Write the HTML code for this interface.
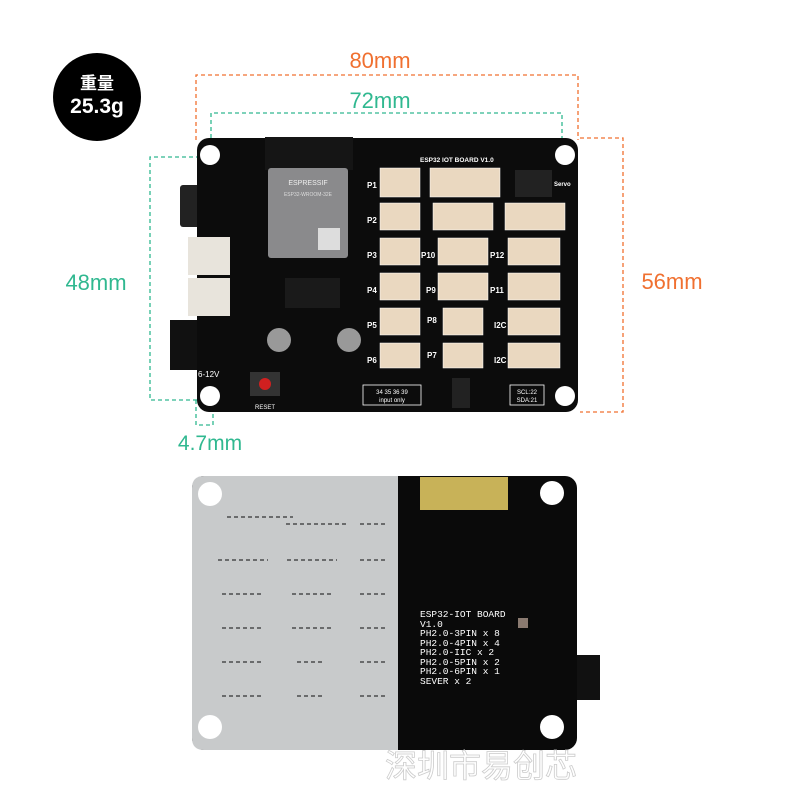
<!DOCTYPE html><html><head><meta charset="utf-8"><style>
body{margin:0;background:#fff;width:800px;height:800px;overflow:hidden;font-family:"Liberation Sans","Noto Sans CJK SC",sans-serif}
</style></head><body>
<svg width="800" height="800" viewBox="0 0 800 800" xmlns="http://www.w3.org/2000/svg" font-family="Liberation Sans, Noto Sans CJK SC, sans-serif">
<rect width="800" height="800" fill="#fff"/>
<circle cx="97" cy="97" r="44" fill="#000"/>
<text x="97" y="89" fill="#fff" font-size="17" font-weight="bold" text-anchor="middle">重量</text>
<text x="97" y="113" fill="#fff" font-size="21" font-weight="bold" text-anchor="middle">25.3g</text>
<g fill="none" stroke-width="1.3" stroke-dasharray="4,3">
<path d="M196 140 V75 H578 V140" stroke="#f07030"/>
<path d="M211 145 V113 H562 V145" stroke="#30b890"/>
<path d="M200 157 H150 V400 H200" stroke="#30b890"/>
<path d="M580 138 H623 V412 H580" stroke="#f07030"/>
<path d="M196 400 V425 H213 V400" stroke="#30b890"/>
</g>
<text x="380" y="68" fill="#f07030" font-size="22" text-anchor="middle">80mm</text>
<text x="380" y="108" fill="#30b890" font-size="22" text-anchor="middle">72mm</text>
<text x="96" y="290" fill="#30b890" font-size="22" text-anchor="middle">48mm</text>
<text x="672" y="289" fill="#f07030" font-size="22" text-anchor="middle">56mm</text>
<text x="210" y="450" fill="#30b890" font-size="21" text-anchor="middle">4.7mm</text>
<rect x="180" y="185" width="22" height="42" fill="#222" rx="3"/>
<rect x="170" y="320" width="60" height="50" fill="#111"/>
<rect x="197" y="138" width="381" height="274" rx="12" fill="#0c0c0c"/>
<circle cx="210" cy="155" r="10" fill="#fff"/><circle cx="565" cy="155" r="10" fill="#fff"/>
<circle cx="210" cy="396" r="10" fill="#fff"/><circle cx="565" cy="396" r="10" fill="#fff"/>
<rect x="265" y="137" width="88" height="33" fill="#151515"/>
<rect x="268" y="168" width="80" height="90" rx="3" fill="#8a8a8c"/>
<text x="308" y="185" fill="#eee" font-size="7" text-anchor="middle">ESPRESSIF</text>
<text x="308" y="196" fill="#ddd" font-size="5" text-anchor="middle">ESP32-WROOM-32E</text>
<rect x="318" y="228" width="22" height="22" fill="#ddd"/>
<rect x="188" y="237" width="42" height="38" fill="#e8e4dc"/>
<rect x="188" y="278" width="42" height="38" fill="#e8e4dc"/>
<rect x="285" y="278" width="55" height="30" fill="#1a1a1a"/>
<circle cx="279" cy="340" r="12" fill="#999"/><circle cx="349" cy="340" r="12" fill="#999"/>
<rect x="250" y="372" width="30" height="24" fill="#333"/><circle cx="265" cy="384" r="6" fill="#d02020"/>
<text x="265" y="409" fill="#fff" font-size="6" text-anchor="middle">RESET</text>
<text x="198" y="377" fill="#fff" font-size="8">6-12V</text>
<g fill="#ead8c0" stroke="#fff" stroke-width="0.5">
<rect x="380" y="168" width="40" height="29"/><rect x="430" y="168" width="70" height="29"/>
<rect x="380" y="203" width="40" height="27"/><rect x="433" y="203" width="60" height="27"/><rect x="505" y="203" width="60" height="27"/>
<rect x="380" y="238" width="40" height="27"/><rect x="438" y="238" width="50" height="27"/><rect x="508" y="238" width="52" height="27"/>
<rect x="380" y="273" width="40" height="27"/><rect x="438" y="273" width="50" height="27"/><rect x="508" y="273" width="52" height="27"/>
<rect x="380" y="308" width="40" height="27"/><rect x="443" y="308" width="40" height="27"/><rect x="508" y="308" width="52" height="27"/>
<rect x="380" y="343" width="40" height="25"/><rect x="443" y="343" width="40" height="25"/><rect x="508" y="343" width="52" height="25"/>
</g>
<rect x="515" y="170" width="37" height="27" fill="#222"/>
<g fill="#fff" font-size="8" font-weight="bold">
<text x="420" y="162" font-size="6.5">ESP32 IOT BOARD V1.0</text>
<text x="367" y="188">P1</text><text x="367" y="223">P2</text><text x="367" y="258">P3</text>
<text x="367" y="293">P4</text><text x="367" y="328">P5</text><text x="367" y="363">P6</text>
<text x="421" y="258">P10</text><text x="426" y="293">P9</text><text x="490" y="258">P12</text><text x="490" y="293">P11</text>
<text x="427" y="323">P8</text><text x="427" y="358">P7</text><text x="494" y="328">I2C</text><text x="494" y="363">I2C</text>
<text x="554" y="186" font-size="6">Servo</text>
</g>
<rect x="363" y="385" width="58" height="20" fill="none" stroke="#fff" stroke-width="0.8"/>
<text x="392" y="394" fill="#fff" font-size="6" text-anchor="middle">34 35 36 39</text>
<text x="392" y="402" fill="#fff" font-size="6" text-anchor="middle">input only</text>
<rect x="452" y="378" width="18" height="30" fill="#222"/>
<rect x="510" y="385" width="34" height="20" fill="none" stroke="#fff" stroke-width="0.8"/>
<text x="527" y="394" fill="#fff" font-size="6" text-anchor="middle">SCL:22</text>
<text x="527" y="402" fill="#fff" font-size="6" text-anchor="middle">SDA:21</text>
<rect x="575" y="655" width="25" height="45" fill="#111"/>
<rect x="192" y="476" width="385" height="274" rx="12" fill="#0a0a0a"/>
<path d="M204 476 H398 V750 H204 Q192 750 192 738 V488 Q192 476 204 476Z" fill="#c8cacb"/>
<rect x="420" y="477" width="88" height="33" fill="#c8b258"/>
<circle cx="210" cy="494" r="12" fill="#fff"/><circle cx="552" cy="493" r="12" fill="#fff"/>
<circle cx="210" cy="727" r="12" fill="#fff"/><circle cx="552" cy="727" r="12" fill="#fff"/>
<g fill="none" stroke="#333" stroke-width="1.2">
<path d="M227 517 h66 M286 524 h62 M360 524 h28 M218 560 h50 M287 560 h50 M360 560 h28 M222 594 h40 M292 594 h40 M360 594 h28 M222 628 h40 M292 628 h40 M360 628 h28 M222 662 h40 M297 662 h28 M360 662 h28 M222 696 h40 M297 696 h28 M360 696 h28" stroke-dasharray="4,3"/>
</g>
<rect x="518" y="618" width="10" height="10" fill="#8a7a70"/>
<g fill="#fff" font-family="Liberation Mono, monospace" font-size="9.5">
<text x="420" y="617">ESP32-IOT BOARD</text><text x="420" y="627">V1.0</text>
<text x="420" y="636">PH2.0-3PIN x 8</text><text x="420" y="646">PH2.0-4PIN x 4</text>
<text x="420" y="655">PH2.0-IIC  x 2</text><text x="420" y="665">PH2.0-5PIN x 2</text>
<text x="420" y="674">PH2.0-6PIN x 1</text><text x="420" y="684">SEVER x 2</text>
</g>
<text x="385" y="777" fill="#fff" stroke="#ccc" stroke-width="0.8" font-size="32">深圳市易创芯</text>
</svg>
</body></html>
